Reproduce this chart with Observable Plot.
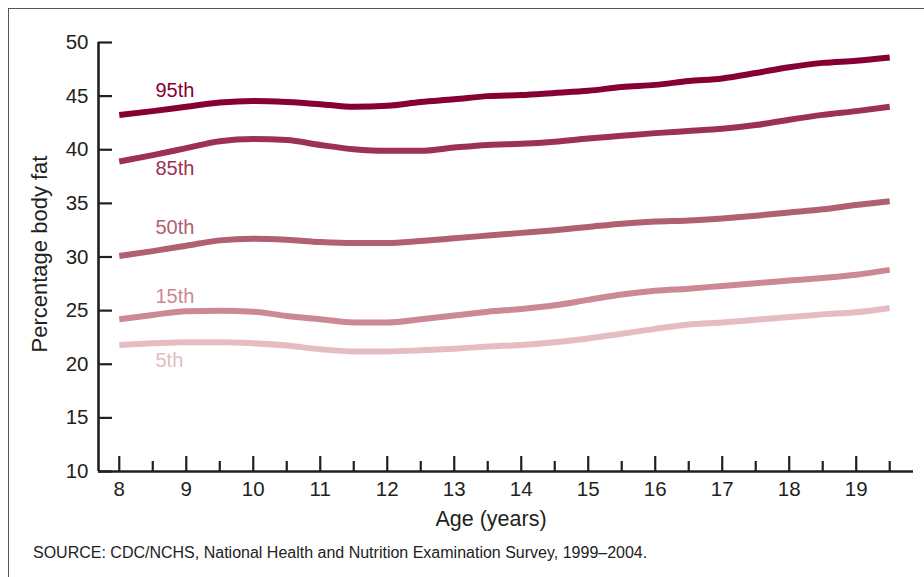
<!DOCTYPE html>
<html><head><meta charset="utf-8">
<script src="https://cdn.jsdelivr.net/npm/d3@7"></script>
<script src="https://cdn.jsdelivr.net/npm/@observablehq/plot@0.6"></script>
<style>
html,body{margin:0;padding:0;background:#fff;}
body{width:924px;height:577px;overflow:hidden;position:relative;font-family:"Liberation Sans",Arial,Helvetica,sans-serif;}
#frame{position:absolute;left:8px;top:8px;width:940px;height:600px;border-top:1.5px solid #555;border-left:1.5px solid #555;}
#chart{position:absolute;left:0;top:0;}
#source{position:absolute;left:33px;top:544px;font-size:16px;color:#222;white-space:nowrap;}
</style></head><body>
<div id="frame"></div>
<div id="chart"></div>
<div id="source">SOURCE: CDC/NCHS, National Health and Nutrition Examination Survey, 1999–2004.</div>
<script>
// Ages (years), half-year steps
const ages = [8,8.5,9,9.5,10,10.5,11,11.5,12,12.5,13,13.5,14,14.5,15,15.5,16,16.5,17,17.5,18,18.5,19,19.5];
// Percentage body fat by percentile
const p95 = [43.25,43.6,44.0,44.4,44.55,44.45,44.25,44.0,44.1,44.45,44.7,45.0,45.1,45.3,45.5,45.85,46.05,46.4,46.65,47.15,47.7,48.1,48.3,48.6];
const p85 = [38.9,39.5,40.15,40.8,41.0,40.9,40.45,40.05,39.9,39.9,40.2,40.45,40.55,40.75,41.05,41.3,41.55,41.75,41.95,42.3,42.8,43.25,43.6,44.0];
const p50 = [30.1,30.55,31.05,31.55,31.7,31.6,31.4,31.3,31.3,31.5,31.75,32.0,32.25,32.5,32.8,33.1,33.3,33.4,33.6,33.85,34.15,34.45,34.85,35.2];
const p15 = [24.2,24.6,24.95,25.0,24.9,24.5,24.2,23.9,23.9,24.2,24.55,24.9,25.15,25.5,26.0,26.5,26.85,27.05,27.3,27.55,27.8,28.05,28.35,28.8];
const p5  = [21.8,21.95,22.05,22.05,21.95,21.75,21.4,21.2,21.2,21.3,21.45,21.65,21.8,22.05,22.4,22.85,23.3,23.7,23.9,24.15,24.4,24.65,24.85,25.25];

const percentiles = ["95th","85th","50th","15th","5th"];
const series = [p95, p85, p50, p15, p5];
const colors = ["#870033","#9c3151","#b0606f","#cc8893","#e4bcc2"];

// Percentile label anchors (age, value)
const labelAge = 8.54;
const labelValues = [45.5, 38.2, 32.7, 26.3, 20.3];

const yTicks = [10,15,20,25,30,35,40,45,50];
const xTicks = [8,9,10,11,12,13,14,15,16,17,18,19];
const xMinorTicks = [8.5,9.5,10.5,11.5,12.5,13.5,14.5,15.5,16.5,17.5,18.5,19.5];

const rows = [];
percentiles.forEach((p, k) => ages.forEach((a, i) => rows.push({age: a, value: series[k][i], pct: p})));

// Layout
const W = 924, H = 540, ML = 98, MR = 11, MT = 42, MB = 69;
const xDomain = [7.69, 19.855], yDomain = [10, 50];
const pxX = (W - ML - MR) / (xDomain[1] - xDomain[0]);
const pxY = (H - MT - MB) / (yDomain[1] - yDomain[0]);
const ink = "#231f20";

const plot = Plot.plot({
  width: W, height: H,
  marginLeft: ML, marginRight: MR, marginTop: MT, marginBottom: MB,
  style: {fontFamily: '"Liberation Sans", Arial, Helvetica, sans-serif', background: "transparent"},
  x: {domain: xDomain},
  y: {domain: yDomain},
  color: {domain: percentiles, range: colors},
  marks: [
    // axis lines
    Plot.ruleX([xDomain[0]], {y1: yDomain[0], y2: yDomain[1], stroke: ink, strokeWidth: 2.6}),
    Plot.ruleY([yDomain[0]], {x1: xDomain[0], x2: xDomain[1], stroke: ink, strokeWidth: 2.6}),
    // inward ticks
    Plot.ruleX(xTicks, {x: d => d, y1: yDomain[0], y2: yDomain[0] + 15 / pxY, stroke: ink, strokeWidth: 2.2}),
    Plot.ruleX(xMinorTicks, {x: d => d, y1: yDomain[0], y2: yDomain[0] + 10 / pxY, stroke: ink, strokeWidth: 2.2}),
    Plot.ruleY(yTicks, {y: d => d, x1: xDomain[0], x2: xDomain[0] + 14 / pxX, stroke: ink, strokeWidth: 2.2}),
    // tick labels
    Plot.axisX(xTicks, {tickSize: 0, tickPadding: 10, fontSize: 20.5, fill: ink, label: null}),
    Plot.axisY(yTicks, {tickSize: 0, tickPadding: 10, fontSize: 20.5, fill: ink, label: null}),
    // axis titles
    Plot.text(["Age (years)"], {frameAnchor: "bottom", dx: -15, dy: 48, fontSize: 21.5, fill: ink, lineAnchor: "middle"}),
    Plot.text(["Percentage body fat"], {
      x: () => xDomain[0] - 59 / pxX,
      y: () => yDomain[1] - (253.5 - MT) / pxY,
      rotate: -90, fontSize: 22, fill: ink, lineAnchor: "middle", textAnchor: "middle"
    }),
    // data lines
    Plot.line(rows, {x: "age", y: "value", z: "pct", stroke: "pct", strokeWidth: 6, curve: "monotone-x", strokeLinecap: "butt", strokeLinejoin: "round"}),
    // percentile labels
    Plot.text(percentiles, {x: () => labelAge, y: (d, i) => labelValues[i], text: d => d, fill: d => d, textAnchor: "start", lineAnchor: "middle", fontSize: 20})
  ]
});
document.getElementById("chart").appendChild(plot);
</script>
</body></html>
